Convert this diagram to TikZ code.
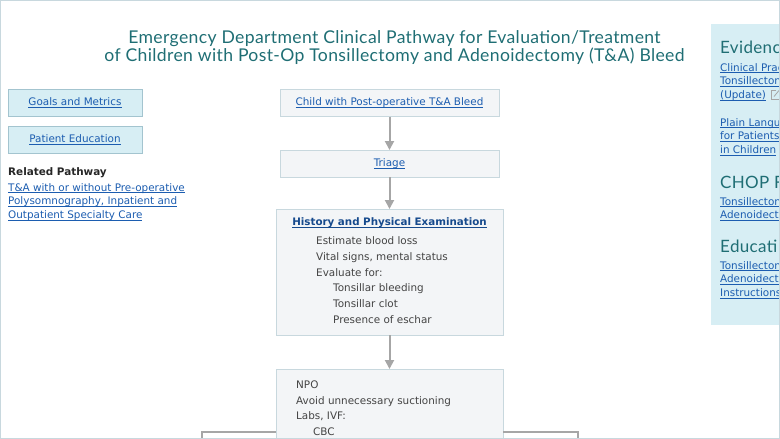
\documentclass[tikz,border=0pt]{standalone}
\usepackage{fontspec}
\setmainfont{DejaVu Sans}
\newfontfamily\titlefont[LetterSpace=2.0]{Lato}
\usetikzlibrary{arrows.meta}
\definecolor{linkblue}{HTML}{1C5DB0}
\definecolor{titleteal}{HTML}{1F6E74}
\definecolor{bodygray}{HTML}{444444}
\definecolor{boxfill}{HTML}{F3F5F7}
\definecolor{boxline}{HTML}{C8D8DE}
\definecolor{sidefill}{HTML}{D7EEF4}
\definecolor{sideline}{HTML}{A3C4CF}
\definecolor{arrowgray}{HTML}{A6A6A6}
\newcommand{\lnk}[1]{\underline{\raisebox{0pt}[\height][0pt]{#1}}}
\tikzset{
  flowbox/.style={draw=boxline, fill=boxfill, line width=1pt, outer sep=0pt, inner sep=0pt, anchor=north west},
  sidebox/.style={draw=sideline, fill=sidefill, line width=1pt, outer sep=0pt, inner sep=0pt, anchor=north west, minimum width=134pt, minimum height=27pt},
  bodytext/.style={font=\fontsize{10.4}{15.8}\selectfont, text=bodygray, align=left, anchor=north west, inner sep=0pt},
  linktext/.style={font=\fontsize{10.4}{13.8}\selectfont, text=linkblue, align=left, inner sep=0pt},
  paneltitle/.style={font=\titlefont\fontsize{17}{20}\selectfont, text=titleteal, anchor=west, inner sep=0pt},
  flowarrow/.style={draw=arrowgray, line width=2pt, -{Triangle[width=9pt,length=9pt]}},
  flowline/.style={draw=arrowgray, line width=1.5pt}
}
\begin{document}
\begin{tikzpicture}[x=1pt, y=-1pt]
\clip (0,0) rectangle (780,439);
%%%%% Title %%%%%
\node[font=\titlefont\fontsize{17.6}{18}\selectfont, text=titleteal, align=center, inner sep=0pt] (title) at (394.5,48)
  {Emergency Department Clinical Pathway for Evaluation/Treatment\\of Children with Post-Op Tonsillectomy and Adenoidectomy (T\&A) Bleed};
%%%%% Left column %%%%%
\node[sidebox, text=linkblue, font=\fontsize{10.4}{13}\selectfont] (goals) at (8,89) {\lnk{Goals and Metrics}};
\node[sidebox, text=linkblue, font=\fontsize{10.4}{13}\selectfont] (education) at (8,126) {\lnk{Patient Education}};
\node[font=\bfseries\fontsize{10.4}{13}\selectfont, text=black!85, anchor=west, inner sep=0pt] (related) at (8,172.5) {Related Pathway};
\node[linktext, anchor=north west] (relatedlink) at (8,183)
  {\lnk{T\&A with or without Pre-operative}\\\lnk{Polysomnography, Inpatient and}\\\lnk{Outpatient Specialty Care}};
%%%%% Flow %%%%%
\node[flowbox, minimum width=219pt, minimum height=27pt, text=linkblue, font=\fontsize{10.4}{13}\selectfont] (child) at (280,89.5) {\lnk{Child with Post-operative T\&A Bleed}};
\node[flowbox, minimum width=219pt, minimum height=27pt, text=linkblue, font=\fontsize{10.4}{13}\selectfont] (triage) at (280,150) {\lnk{Triage}};
\node[flowbox, minimum width=227pt, minimum height=126pt] (history) at (276,209) {};
\node[flowbox, minimum width=227pt, minimum height=120pt] (npo) at (276,369) {};
\node[font=\bfseries\fontsize{10.3}{13}\selectfont, text=linkblue!80!black, inner sep=0pt] (historytitle) at (389.5,222.5) {\lnk{History and Physical Examination}};
\node[bodytext] (historytext) at (316,236.3)
  {Estimate blood loss\\Vital signs, mental status\\Evaluate for:\\\hspace{17pt}Tonsillar bleeding\\\hspace{17pt}Tonsillar clot\\\hspace{17pt}Presence of eschar};
\node[bodytext] (npotext) at (296,380.3)
  {NPO\\Avoid unnecessary suctioning\\Labs, IVF:\\\hspace{17pt}CBC};
\draw[flowarrow] (child) -- (triage);
\draw[flowarrow] (triage) -- (history);
\draw[flowarrow] (history) -- (npo);
\coordinate (leftdrop) at (202,445);
\coordinate (rightdrop) at (578,445);
\draw[flowline] (npo.west |- 0,432) -| (leftdrop);
\draw[flowline] (npo.east |- 0,432) -| (rightdrop);
%%%%% Right panel %%%%%
\fill[sidefill] (711,24) rectangle (785,325);
\node[paneltitle] (evidence) at (720,47.5) {Evidenc};
\node[linktext, anchor=north west] (practice) at (720,63) {\lnk{Clinical Prac}\\\lnk{Tonsillecton}\\\lnk{(Update)}};
\node[linktext, anchor=north west] (plain) at (720,118) {\lnk{Plain Langu}\\\lnk{for Patients}\\\lnk{in Children}};
\node[paneltitle] (chop) at (720,182) {CHOP F};
\node[linktext, anchor=north west] (choplink) at (720,197) {\lnk{Tonsillecton}\\\lnk{Adenoidecto}};
\node[paneltitle] (educati) at (720,246) {Educati};
\node[linktext, anchor=north west] (educatilink) at (720,261) {\lnk{Tonsillecton}\\\lnk{Adenoidecto}\\\lnk{Instructions}};
% external link icon
\draw[gray!70, line width=0.8pt] (776,90.5) -- (771,90.5) -- (771,99.5) -- (779,99.5) -- (779,95.5);
\draw[gray!70, line width=0.8pt] (774,96.5) -- (779,90.5);
%%%%% Frame %%%%%
\draw[boxline, line width=1.5pt] (0,0) rectangle (779.5,438.5);
\end{tikzpicture}
\end{document}
